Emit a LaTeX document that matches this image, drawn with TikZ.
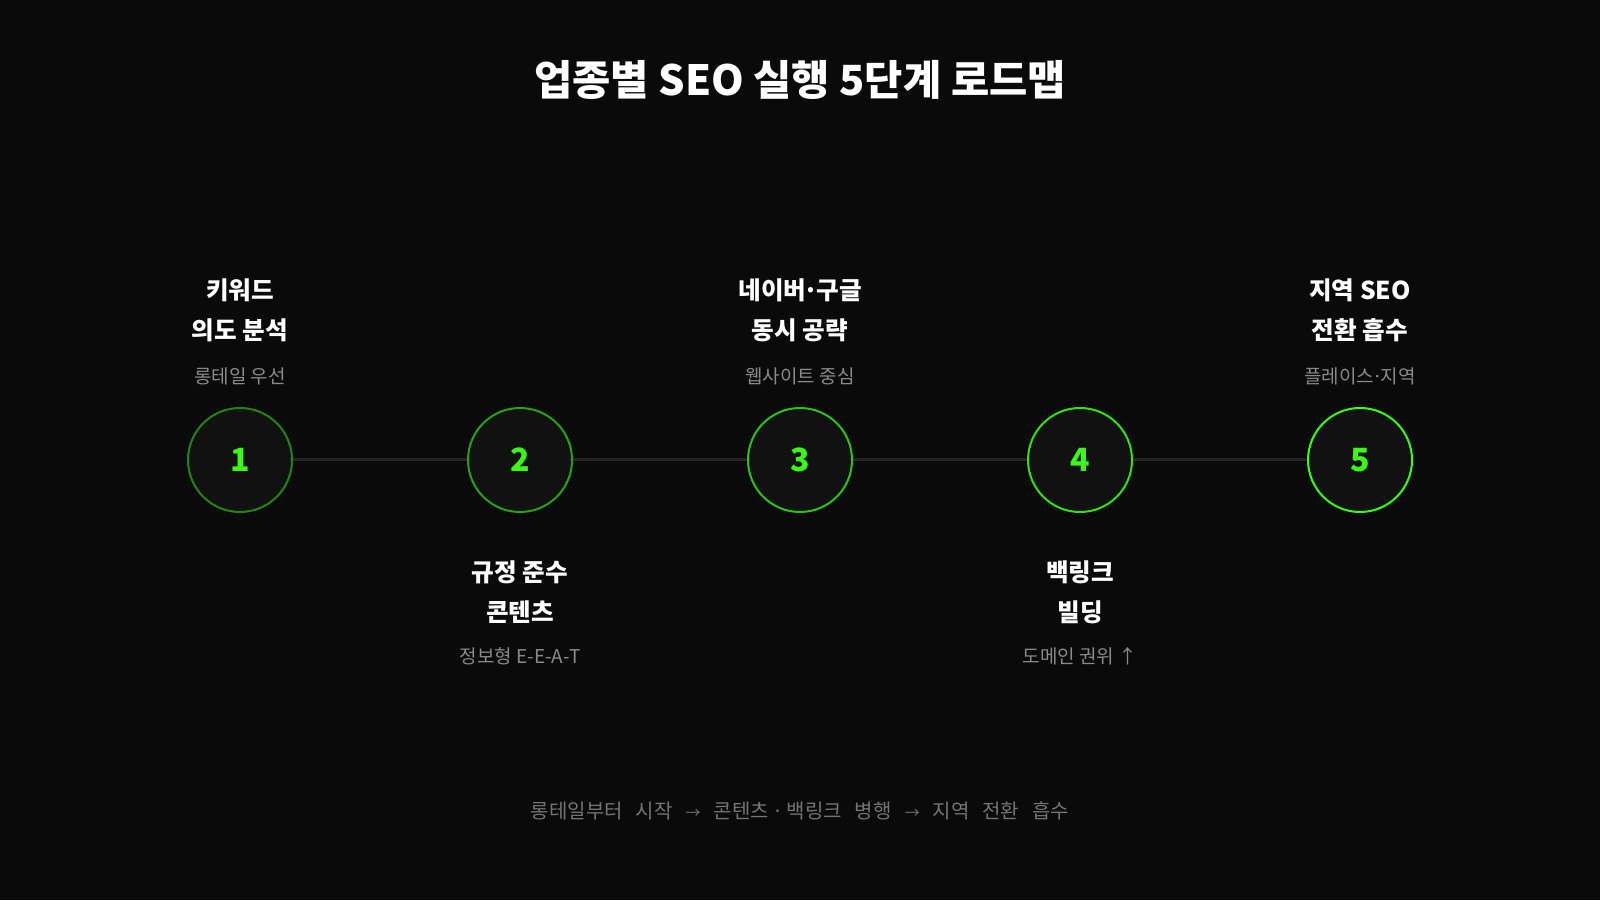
\documentclass[tikz,border=0pt]{standalone}
\usepackage{fontspec}
\setmainfont{Noto Sans CJK KR}
\usepackage{tikz}
\usetikzlibrary{positioning}
\definecolor{bg}{HTML}{0A0A0A}
\definecolor{disc}{HTML}{111111}
\definecolor{neon}{HTML}{39FF14}
\definecolor{track}{HTML}{242424}
\definecolor{subgray}{HTML}{8A8A8A}
\definecolor{footgray}{HTML}{747474}
\newcommand{\tdot}{\hspace{-0.1em}·\hspace{-0.1em}} % tight middle dot
\newcommand{\gap}{\hspace{6.5pt}} % wide word gap of the footer
\newcommand{\sarrow}{{\fontsize{7.5}{7.5}\selectfont →}} % small footer arrow
\tikzset{
    x=0.5pt, y=0.5pt, % one unit is one pixel of the slide
    node distance=140pt, % distance between the centres of two stage circles
    stage/.style={circle, minimum size=52pt, inner sep=0pt, line width=1pt, draw=#1, fill=disc, text=neon, font=\bfseries\fontsize{16}{16}\selectfont}, % the numbered circles
    head/.style={text=white, align=center, font=\bfseries\fontsize{12.3}{20}\selectfont}, % step titles
    sub/.style={text=subgray, font=\fontsize{9.5}{10}\selectfont}, % small grey note under each title
    track line/.style={draw=track, line width=1.5pt}, % line joining the circles
    }

\begin{document}
\begin{tikzpicture}
\fill[bg] (0,0) rectangle (1600,900);

\node[text=white, font=\bfseries\fontsize{20.8}{20.8}\selectfont] (title) at (800,820) {업종별 SEO 실행 5단계 로드맵};

\node[stage=neon!50!bg] (1) at (240,440) {1};
\node[stage=neon!62!bg, right of=1] (2) {2};
\node[stage=neon!75!bg, right of=2] (3) {3};
\node[stage=neon!87!bg, right of=3] (4) {4};
\node[stage=neon, right of=4] (5) {5};

\draw[track line] (1) -- (2) (2) -- (3) (3) -- (4) (4) -- (5);

\node[head, node distance=75pt, above of=1] (h1) {키워드\\의도 분석};
\node[sub, node distance=42pt, above of=1] (s1) {롱테일 우선};
\node[head, node distance=66pt, below of=2] (h2) {규정 준수\\콘텐츠};
\node[sub, node distance=98pt, below of=2] (s2) {정보형 E-E-A-T};
\node[head, node distance=75pt, above of=3] (h3) {네이버\tdot 구글\\동시 공략};
\node[sub, node distance=42pt, above of=3] (s3) {웹사이트 중심};
\node[head, node distance=66pt, below of=4] (h4) {백링크\\빌딩};
\node[sub, node distance=98pt, below of=4] (s4) {도메인 권위 ↑};
\node[head, node distance=75pt, above of=5] (h5) {지역 SEO\\전환 흡수};
\node[sub, node distance=42pt, above of=5] (s5) {플레이스\tdot 지역};

\node[text=footgray, font=\fontsize{10}{10}\selectfont] (foot) at (800,89) {롱테일부터\gap 시작\gap\sarrow\gap 콘텐츠\,·\,백링크\gap 병행\gap\sarrow\gap 지역\gap 전환\gap 흡수};
\end{tikzpicture}
\end{document}
